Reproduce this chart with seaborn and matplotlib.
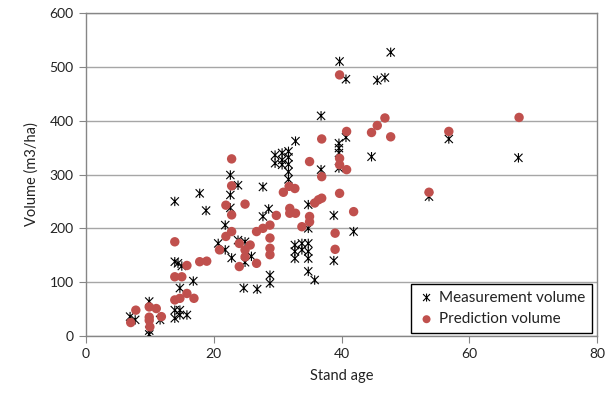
import numpy as np
import pandas as pd
import matplotlib
matplotlib.use("Agg")
import matplotlib.pyplot as plt
from matplotlib.path import Path
import seaborn as sns

# Measurement volume (stand age, volume)
meas_age = [6.9, 7.7, 9.9, 9.9, 9.9, 11.6, 13.9, 14.7, 15.8, 13.9, 14.7, 14.7, 16.8,
            13.9, 14.4, 15.0, 13.9, 17.8, 18.8, 20.7, 21.8, 21.8, 22.6, 22.6, 22.6,
            22.8, 23.8, 23.8, 24.9, 24.9, 24.7, 25.9, 26.8, 27.7, 27.7, 28.6, 28.8,
            28.8, 29.6, 29.6, 30.7, 30.7, 30.7, 31.7, 31.7, 31.7, 31.7, 31.7, 32.8,
            32.7, 32.7, 32.7, 33.8, 33.8, 34.8, 34.8, 34.8, 34.8, 34.8, 34.8, 35.8,
            36.8, 36.8, 38.8, 38.8, 39.7, 39.6, 39.6, 39.6, 39.6, 40.7, 40.7, 41.9,
            44.7, 45.6, 46.8, 47.7, 53.7, 56.8, 67.7]
meas_vol = [36, 30, 64, 10, 3, 30, 33, 39, 39, 48, 48, 89, 102,
            138, 135, 130, 250, 265, 233, 172, 160, 206, 299, 262, 238,
            145, 280, 178, 175, 137, 89, 148, 87, 277, 222, 236, 113,
            98, 336, 321, 340, 327, 318, 343, 332, 319, 305, 291, 362,
            169, 157, 144, 172, 160, 172, 157, 144, 244, 200, 120, 104,
            409, 309, 224, 140, 510, 358, 349, 340, 312, 477, 369, 194,
            333, 475, 480, 527, 259, 366, 331]

# Prediction volume (stand age, volume)
pred_age = [7.0, 7.8, 9.9, 11.0, 9.9, 9.9, 10.0, 11.8, 13.9, 14.7, 15.8, 16.9,
            13.9, 15.0, 15.8, 13.9, 17.8, 18.9, 20.9, 21.9, 22.8, 21.9, 22.8, 22.8,
            22.8, 24.9, 24.0, 24.9, 25.7, 24.9, 24.0, 26.7, 26.7, 27.7, 28.8, 29.8,
            28.8, 28.8, 28.8, 30.9, 31.8, 32.7, 31.9, 31.9, 32.8, 33.8, 35.0, 35.0,
            35.0, 35.8, 36.4, 36.9, 36.9, 36.9, 39.0, 39.0, 39.7, 39.7, 39.7, 40.8,
            39.7, 41.9, 40.8, 44.7, 45.6, 46.8, 47.7, 53.7, 56.8, 67.8]
pred_vol = [25, 48, 54, 51, 35, 29, 17, 36, 67, 70, 79, 70,
            110, 110, 131, 175, 138, 139, 160, 185, 194, 243, 225, 279,
            329, 245, 172, 160, 169, 147, 129, 135, 194, 200, 206, 224,
            182, 163, 151, 267, 278, 274, 237, 228, 228, 203, 222, 212,
            324, 247, 253, 256, 296, 366, 191, 161, 485, 330, 318, 309,
            265, 231, 380, 378, 391, 405, 370, 267, 380, 406]

meas = pd.DataFrame({"Stand age": meas_age, "Volume": meas_vol})
pred = pd.DataFrame({"Stand age": pred_age, "Volume": pred_vol})

sns.set_style("white")
plt.rcParams["font.family"] = ["Lato", "DejaVu Sans"]

fig = plt.figure(figsize=(6.08, 3.94), dpi=100)
ax = fig.add_axes([86/608, 1-336/394, (597-86)/608, (336-13)/394])

star = Path([(-1, -1), (1, 1), (-1, 1), (1, -1), (0, -1.15), (0, 1.15)],
            [Path.MOVETO, Path.LINETO, Path.MOVETO, Path.LINETO, Path.MOVETO, Path.LINETO])

sns.scatterplot(data=meas, x="Stand age", y="Volume", marker=star, s=46,
                facecolor="none", edgecolor="black", linewidth=0.8,
                label="Measurement volume", ax=ax, zorder=3)
sns.scatterplot(data=pred, x="Stand age", y="Volume", marker="o", s=46,
                color="#C0504D", edgecolor="none", linewidth=0,
                label="Prediction volume", ax=ax, zorder=4)

ax.set_xlim(0, 80)
ax.set_ylim(0, 600)
ax.set_xticks(range(0, 81, 20))
ax.set_yticks(range(0, 601, 100))
ax.yaxis.grid(True, color="#A6A6A6", linewidth=1)
ax.xaxis.grid(False)
ax.set_axisbelow(True)
for sp in ax.spines.values():
    sp.set_color("#868686")
    sp.set_linewidth(1)
    sp.set_visible(True)
ax.tick_params(axis="both", which="major", direction="out", length=5,
               color="#868686", labelsize=10, labelcolor="#222222", pad=4,
               bottom=True, left=True)
ax.set_xlabel("Stand age", fontsize=10.5, color="#222222", labelpad=6)
ax.set_ylabel("Volume (m3/ha)", fontsize=10.5, color="#222222", labelpad=8)

leg = ax.legend(loc="lower right", bbox_to_anchor=(0.99, 0.009), borderaxespad=0,
                frameon=True, fancybox=False, framealpha=1, edgecolor="black",
                fontsize=11, handletextpad=0.2, handlelength=1.2,
                borderpad=0.45, labelspacing=0.5, markerscale=0.85)
leg.get_frame().set_linewidth(1.0)
for t in leg.get_texts():
    t.set_color("#222222")

fig.savefig("out.png", dpi=100)
